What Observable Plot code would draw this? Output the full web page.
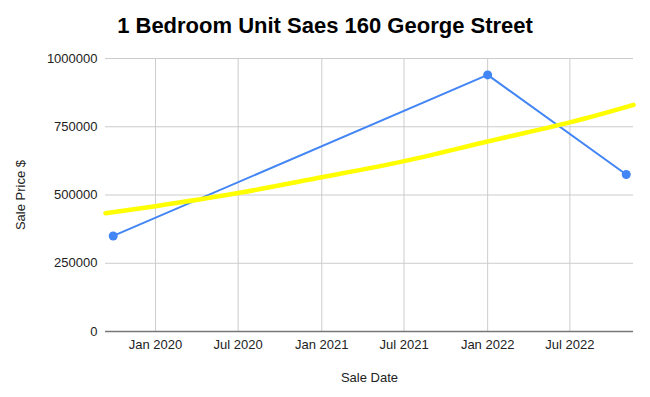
<!DOCTYPE html>
<html>
<head>
<meta charset="utf-8">
<script src="https://cdn.jsdelivr.net/npm/d3@7"></script>
<script src="https://cdn.jsdelivr.net/npm/@observablehq/plot@0.6"></script>
<style>
  html, body { margin: 0; padding: 0; background: #fff; }
  #wrap { width: 650px; height: 397px; position: relative; font-family: "Liberation Sans", Arial, sans-serif; }
  #title { height: 31px; padding-top: 15px; font-size: 22px; line-height: 22px; font-weight: bold; text-align: center; color: #000; }
</style>
</head>
<body>
<div id="wrap">
  <div id="title">1 Bedroom Unit Saes 160 George Street</div>
  <div id="chart"></div>
</div>
<script>
// Sales (blue series)
const saleDates = ["2019-09-30", "2022-01-01", "2022-11-02"];
const salePrices = [350000, 940000, 575000];

// Trendline (yellow), values
const trendDates = ["2019-09-13", "2020-01-01", "2020-07-01", "2021-01-01", "2021-07-01", "2022-01-01", "2022-07-01", "2022-11-18"];
const trendPrices = [433000, 459000, 507000, 565000, 624000, 696000, 766000, 830000];

// Axes
const xDomain = ["2019-09-13", "2022-11-18"];
const xTicks = ["2020-01-01", "2020-07-01", "2021-01-01", "2021-07-01", "2022-01-01", "2022-07-01"];
const xTickLabels = ["Jan 2020", "Jul 2020", "Jan 2021", "Jul 2021", "Jan 2022", "Jul 2022"];
const yTicks = [0, 250000, 500000, 750000, 1000000];
const yTickLabels = ["0", "250000", "500000", "750000", "1000000"];
const xLabel = "Sale Date";
const yLabel = "Sale Price $";

const sales = saleDates.map((d, i) => ({date: new Date(d), price: salePrices[i]}));
const trend = trendDates.map((d, i) => ({date: new Date(d), price: trendPrices[i]}));
const xTickDates = xTicks.map(d => new Date(d));
const xLabelMap = new Map(xTickDates.map((d, i) => [d.getTime(), xTickLabels[i]]));
const yLabelMap = new Map(yTicks.map((v, i) => [v, yTickLabels[i]]));

const chart = Plot.plot({
  width: 650,
  height: 351,
  marginTop: 12,
  marginBottom: 66,
  marginLeft: 105,
  marginRight: 17,
  style: {fontFamily: "'Liberation Sans', Arial, sans-serif", fontSize: "13px", color: "#222", background: "#fff"},
  x: {type: "utc", domain: xDomain.map(d => new Date(d))},
  y: {domain: [0, 1000000]},
  marks: [
    Plot.gridX(xTickDates, {stroke: "#cccccc", strokeOpacity: 1, strokeWidth: 1}),
    Plot.gridY(yTicks.filter(v => v > 0), {stroke: "#cccccc", strokeOpacity: 1, strokeWidth: 1}),
    Plot.ruleY([0], {stroke: "#777", strokeWidth: 1.5}),
    Plot.line(sales, {x: "date", y: "price", stroke: "#4285f4", strokeWidth: 2}),
    Plot.line(trend, {x: "date", y: "price", stroke: "#ffff00", strokeWidth: 4.5, curve: "natural"}),
    Plot.dot(sales, {x: "date", y: "price", r: 4.5, fill: "#4285f4", stroke: "none"}),
    Plot.axisX(xTickDates, {tickSize: 0, tickPadding: 8, tickFormat: d => xLabelMap.get(d.getTime()), label: null, fill: "#222"}),
    Plot.axisY(yTicks, {tickSize: 0, tickPadding: 8, tickFormat: v => yLabelMap.get(v), label: null, fill: "#222"}),
    Plot.text([xLabel], {frameAnchor: "bottom", dy: 46, textAnchor: "middle", lineAnchor: "middle", fill: "#222"}),
    Plot.text([yLabel], {frameAnchor: "left", dx: -85, rotate: -90, textAnchor: "middle", lineAnchor: "middle", fill: "#222"})
  ]
});
document.getElementById("chart").appendChild(chart);
</script>
</body>
</html>
